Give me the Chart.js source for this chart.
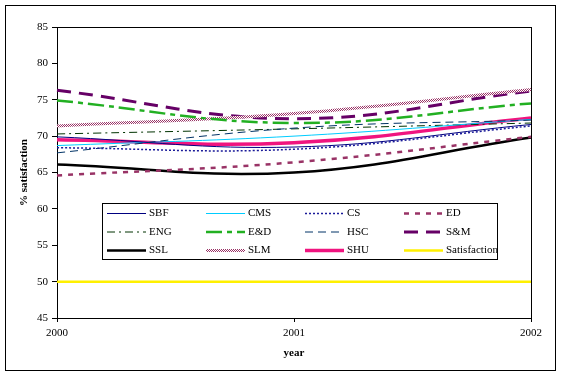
<!DOCTYPE html>
<html>
<head>
<meta charset="utf-8">
<script src="https://cdn.jsdelivr.net/npm/chart.js@4"></script>
<style>
  html, body { margin: 0; padding: 0; background: #fff; }
  canvas { display: block; }
</style>
</head>
<body>
<canvas id="satChart" width="561" height="375"></canvas>
<script>
// data
const years = ['2000', '2001', '2002'];
const yTicks = [45, 50, 55, 60, 65, 70, 75, 80, 85];

const sbf = [69.9, 68.5, 71.6];
const cms = [68.7, 70.0, 72.3];
const cs = [68.4, 68.2, 71.4];
const ed = [64.6, 66.4, 69.9];
const eng = [70.3, 71.0, 71.8];
const eAndD = [74.9, 71.8, 74.5];
const hsc = [67.7, 71.1, 72.2];
const sAndM = [76.3, 72.4, 76.2];
const ssl = [66.1, 65.0, 69.8];
const slm = [71.4, 73.1, 76.4];
const shu = [69.5, 69.1, 72.5];
const satisfaction = [50, 50, 50];

const serif = "'Liberation Serif', 'Times New Roman', serif";

// checkered pink pattern for SLM
function checkerPattern() {
    const c = document.createElement('canvas');
    c.width = 2; c.height = 2;
    const g = c.getContext('2d');
    g.fillStyle = '#ffffff';
    g.fillRect(0, 0, 2, 2);
    g.fillStyle = '#993366';
    g.fillRect(0, 0, 1, 1);
    g.fillRect(1, 1, 1, 1);
    return g.createPattern(c, 'repeat');
}

const ctx = document.getElementById('satChart');
const slmPattern = checkerPattern();

function series(label, data, color, width, dash) {
    return {
        label: label,
        data: data,
        borderColor: color,
        backgroundColor: color,
        borderWidth: width,
        borderDash: dash || [],
        pointRadius: 0,
        fill: false,
        tension: 0.4
    };
}

const datasets = [
    series('Satisfaction', satisfaction, '#fff000', 2.5),
    series('ED', ed, '#993366', 2.5, [5, 6]),
    series('SSL', ssl, '#000000', 2.5),
    series('CS', cs, '#1a1a99', 1.5, [2, 2]),
    series('HSC', hsc, '#003366', 1, [8, 5]),
    series('SBF', sbf, '#000080', 1),
    series('CMS', cms, '#00ccff', 1),
    series('ENG', eng, '#003300', 1, [8, 4, 2, 4]),
    series('SHU', shu, '#f0147f', 3.5),
    series('E&D', eAndD, '#22b022', 2.5, [16, 5, 5, 5]),
    series('SLM', slm, slmPattern, 3),
    series('S&M', sAndM, '#660066', 3, [14, 8])
];

// legend order as in the picture, 4 columns x 3 rows
const legendOrder = ['SBF', 'CMS', 'CS', 'ED', 'ENG', 'E&D', 'HSC', 'S&M', 'SSL', 'SLM', 'SHU', 'Satisfaction'];

const frame = {
    id: 'frame',
    beforeDraw(chart) {
        const c = chart.ctx;
        c.save();
        c.fillStyle = '#fff';
        c.fillRect(0, 0, chart.width, chart.height);
        c.strokeStyle = '#000';
        c.lineWidth = 1;
        c.strokeRect(5.5, 5.5, 550, 365);
        const a = chart.chartArea;
        c.strokeRect(Math.round(a.left) + 0.5, Math.round(a.top) + 0.5,
            Math.round(a.right - a.left), Math.round(a.bottom - a.top));
        c.restore();
    }
};

const boxLegend = {
    id: 'boxLegend',
    afterDraw(chart) {
        const c = chart.ctx;
        const a = chart.chartArea;
        const x0 = a.left + 45, y0 = a.top + 176;
        c.save();
        c.fillStyle = '#fff';
        c.fillRect(x0, y0, 395, 56);
        c.strokeStyle = '#000';
        c.lineWidth = 1;
        c.setLineDash([]);
        c.strokeRect(x0 + 0.5, y0 + 0.5, 395, 56);
        c.font = '11px ' + serif;
        c.textBaseline = 'middle';
        legendOrder.forEach((name, i) => {
            const ds = chart.data.datasets.find(d => d.label === name);
            const col = i % 4, row = Math.floor(i / 4);
            const lx = x0 + 5 + col * 99;
            const ly = y0 + 10.5 + row * 18.5;
            c.beginPath();
            c.strokeStyle = ds.borderColor;
            c.lineWidth = ds.borderWidth;
            c.setLineDash(ds.borderDash);
            c.moveTo(lx, ly);
            c.lineTo(lx + 39, ly);
            c.stroke();
            c.setLineDash([]);
            c.fillStyle = '#000';
            c.fillText(name, lx + 42, ly);
        });
        c.restore();
    }
};

new Chart(ctx, {
    type: 'line',
    data: { labels: years, datasets: datasets },
    plugins: [frame, boxLegend],
    options: {
        responsive: false,
        animation: false,
        layout: { padding: { top: 27, right: 30, left: 0, bottom: 0 } },
        plugins: {
            legend: { display: false },
            tooltip: { enabled: false }
        },
        scales: {
            x: {
                type: 'category',
                offset: false,
                afterFit: s => { s.height = 57; },
                border: { color: '#000' },
                grid: { drawOnChartArea: false, color: '#000', tickLength: 4 },
                ticks: { color: '#000', font: { family: serif, size: 11 }, padding: 5, maxRotation: 0 },
                title: {
                    display: true, text: 'year', color: '#000',
                    font: { family: serif, size: 11, weight: 'bold' },
                    padding: { top: 0, bottom: 15 }
                }
            },
            y: {
                min: 45,
                max: 85,
                afterFit: s => { s.width = 57; },
                afterBuildTicks: s => { s.ticks = yTicks.map(v => ({ value: v })); },
                border: { color: '#000' },
                grid: { drawOnChartArea: false, color: '#000', tickLength: 5 },
                ticks: { color: '#000', font: { family: serif, size: 11 }, padding: 4 },
                title: {
                    display: true, text: '% satisfaction', color: '#000',
                    font: { family: serif, size: 11, weight: 'bold' },
                    padding: { top: 18, bottom: 0 }
                }
            }
        }
    }
});
</script>
</body>
</html>
